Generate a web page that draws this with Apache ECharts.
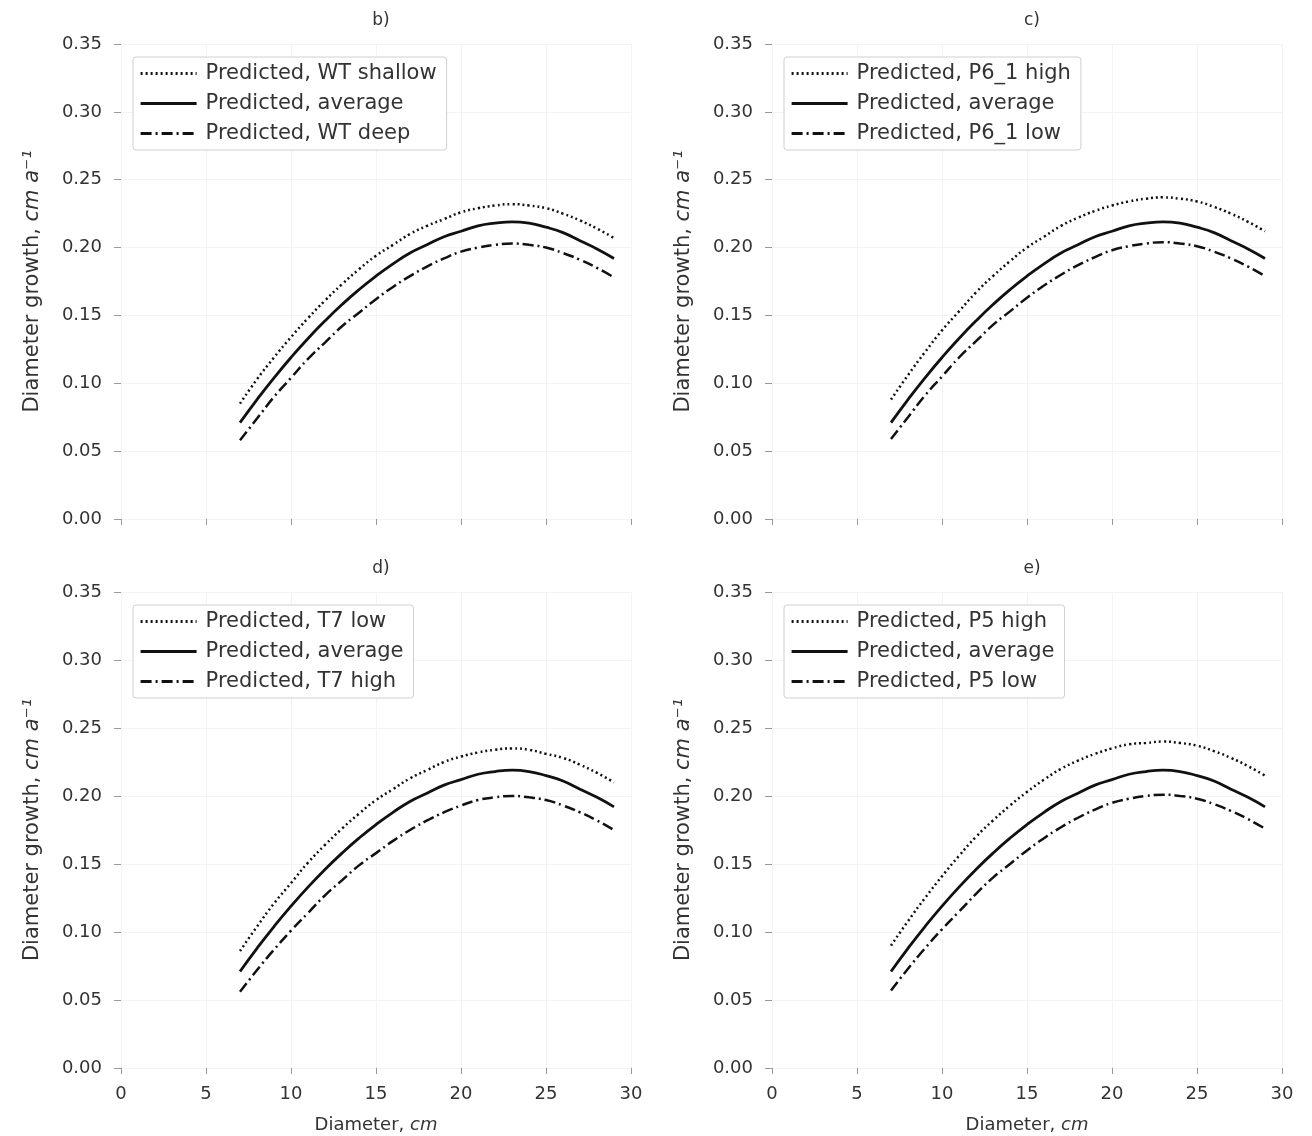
<!DOCTYPE html>
<html>
<head>
<meta charset="utf-8">
<script src="https://cdn.jsdelivr.net/npm/echarts@6/dist/echarts.min.js"></script>
<style>
html,body{margin:0;padding:0;background:#fff;}
#chart{width:1312px;height:1136px;}
</style>
</head>
<body>
<div id="chart"></div>
<script>
// Diameter values (cm)
const diameters = [7,8,9,10,11,12,13,14,15,16,17,18,19,20,21,22,23,24,25,26,27,28,29];

// Average prediction (same in all panels)
const avgGrowth = [0.071,0.088,0.104,0.119,0.133,0.146,0.158,0.169,0.179,0.188,0.196,0.202,0.208,0.212,0.216,0.218,0.219,0.218,0.215,0.211,0.205,0.199,0.192];

// Panel b) water table
const wtShallow = [0.085,0.103,0.119,0.134,0.148,0.161,0.173,0.184,0.194,0.202,0.210,0.216,0.221,0.226,0.229,0.231,0.232,0.231,0.229,0.225,0.220,0.214,0.207];
const wtDeep    = [0.058,0.074,0.090,0.104,0.118,0.130,0.142,0.152,0.162,0.171,0.179,0.186,0.192,0.197,0.200,0.202,0.203,0.202,0.200,0.196,0.191,0.185,0.178];

// Panel c) P6_1
const p61High = [0.088,0.106,0.123,0.139,0.153,0.167,0.179,0.190,0.200,0.208,0.216,0.222,0.227,0.231,0.234,0.236,0.237,0.236,0.234,0.230,0.225,0.219,0.212];
const p61Low  = [0.059,0.075,0.091,0.105,0.119,0.131,0.143,0.153,0.163,0.172,0.180,0.187,0.193,0.198,0.201,0.203,0.204,0.203,0.201,0.197,0.192,0.186,0.179];

// Panel d) T7
const t7Low  = [0.086,0.104,0.121,0.136,0.151,0.164,0.176,0.187,0.197,0.205,0.213,0.219,0.225,0.229,0.232,0.234,0.235,0.234,0.231,0.228,0.223,0.217,0.210];
const t7High = [0.056,0.072,0.087,0.101,0.114,0.127,0.138,0.149,0.158,0.167,0.175,0.182,0.188,0.193,0.197,0.199,0.200,0.199,0.197,0.193,0.188,0.182,0.175];

// Panel e) P5
const p5High = [0.090,0.108,0.125,0.141,0.156,0.170,0.182,0.193,0.203,0.212,0.220,0.226,0.231,0.235,0.238,0.239,0.240,0.239,0.237,0.233,0.228,0.222,0.215];
const p5Low  = [0.057,0.073,0.088,0.102,0.115,0.128,0.140,0.150,0.160,0.169,0.177,0.184,0.190,0.195,0.198,0.200,0.201,0.200,0.198,0.194,0.189,0.183,0.176];

const panelTitles = ['b)','c)','d)','e)'];
const yTicks = ['0.00','0.05','0.10','0.15','0.20','0.25','0.30','0.35'];

const panels = [
  {hi: wtShallow, hiName: 'Predicted, WT shallow', lo: wtDeep, loName: 'Predicted, WT deep'},
  {hi: p61High, hiName: 'Predicted, P6_1 high', lo: p61Low, loName: 'Predicted, P6_1 low'},
  {hi: t7Low, hiName: 'Predicted, T7 low', lo: t7High, loName: 'Predicted, T7 high'},
  {hi: p5High, hiName: 'Predicted, P5 high', lo: p5Low, loName: 'Predicted, P5 low'}
];

const FONT = 'DejaVu Sans';
const TXT = '#333';
const grids = [
  {left:121, top:44, width:510, height:475},
  {left:772, top:44, width:510, height:475},
  {left:121, top:592, width:510, height:476},
  {left:772, top:592, width:510, height:476}
];

const pairs = arr => diameters.map((d,i)=>[d, arr[i]]);

const option = {
  backgroundColor:'#fff',
  animation:false,
  textStyle:{fontFamily:FONT},
  title: panelTitles.map((t,i)=>({
    text:t,
    left: grids[i].left + grids[i].width/2,
    top: grids[i].top - 37,
    textAlign:'center',
    textStyle:{fontFamily:FONT,fontSize:17,fontWeight:'normal',color:TXT}
  })),
  grid: grids,
  xAxis: grids.map((g,i)=>({
    type:'value', gridIndex:i, min:0, max:30, interval:5,
    axisLine:{show:false},
    axisTick:{show:true,length:6,lineStyle:{color:'#999',width:1}},
    axisLabel:{show:i>=2, margin:17, fontFamily:FONT, fontSize:18, color:TXT},
    splitLine:{show:true,lineStyle:{color:'#f3f3f3',width:1}},
    name: i>=2 ? 'Diameter, {i|cm}' : '',
    nameLocation:'middle', nameGap:48,
    nameTextStyle:{fontFamily:FONT,fontSize:18,color:TXT,
      rich:{i:{fontStyle:'italic',fontFamily:FONT,fontSize:18,color:TXT}}}
  })),
  yAxis: grids.map((g,i)=>({
    type:'value', gridIndex:i, min:0, max:0.35, interval:0.05,
    axisLine:{show:false},
    axisTick:{show:true,length:7,lineStyle:{color:'#999',width:1}},
    axisLabel:{margin:19, fontFamily:FONT, fontSize:18, color:TXT,
      formatter: v => yTicks[Math.round(v/0.05)]},
    splitLine:{show:true,lineStyle:{color:'#f3f3f3',width:1}},
    name:'Diameter growth, {i|cm a⁻¹}',
    nameLocation:'middle', nameGap:78,
    nameTextStyle:{fontFamily:FONT,fontSize:21,color:TXT,
      rich:{i:{fontStyle:'italic',fontFamily:FONT,fontSize:21,color:TXT}}}
  })),
  legend: panels.map((p,i)=>({
    orient:'vertical',
    left: grids[i].left + 12,
    top: grids[i].top + 13,
    data:[p.hiName,'Predicted, average',p.loName],
    itemWidth:56, itemHeight:14, itemGap:9,
    padding:[6,10,6,6],
    borderColor:'#d0d0d0', borderWidth:1, borderRadius:3,
    backgroundColor:'#fff',
    selectedMode:false,
    itemStyle:{opacity:0},
    lineStyle:{width:3.2},
    textStyle:{fontFamily:FONT,fontSize:21,color:TXT,padding:[0,0,0,4]}
  })),
  series: []
};

panels.forEach((p,i)=>{
  option.series.push({
    type:'line', name:p.hiName, xAxisIndex:i, yAxisIndex:i, data:pairs(p.hi),
    symbol:'none', smooth:true,
    lineStyle:{color:'#111', width:2.5, type:[2,3]}, itemStyle:{color:'#111'}
  });
  option.series.push({
    type:'line', name:'Predicted, average', xAxisIndex:i, yAxisIndex:i, data:pairs(avgGrowth),
    symbol:'none', smooth:true,
    lineStyle:{color:'#111', width:2.8, type:'solid'}, itemStyle:{color:'#111'}
  });
  option.series.push({
    type:'line', name:p.loName, xAxisIndex:i, yAxisIndex:i, data:pairs(p.lo),
    symbol:'none', smooth:true,
    lineStyle:{color:'#111', width:2.5, type:[11,4,2,4]}, itemStyle:{color:'#111'}
  });
});

const chart = echarts.init(document.getElementById('chart'), null, {renderer:'canvas'});
chart.setOption(option);
</script>
</body>
</html>
